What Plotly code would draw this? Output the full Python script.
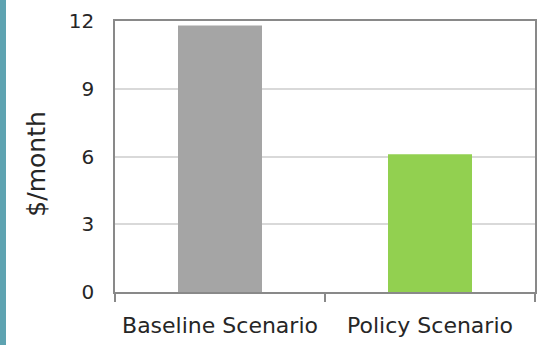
import plotly.graph_objects as go

# Monthly cost by scenario
scenarios = ["Baseline Scenario", "Policy Scenario"]
cost_per_month = [11.8, 6.1]
bar_colors = ["#A5A5A5", "#92D050"]
y_ticks = [0, 3, 6, 9, 12]
y_title = "$/month"

FONT = "DejaVu Sans"
AXIS_GRAY = "#898989"
TEXT = "#262626"

fig = go.Figure(
    go.Bar(
        x=scenarios,
        y=cost_per_month,
        marker=dict(color=bar_colors, line=dict(width=0)),
        width=0.4,
        hoverinfo="x+y",
    )
)

fig.update_layout(
    width=545,
    height=346,
    margin=dict(l=115, r=8, t=21, b=53),
    paper_bgcolor="white",
    plot_bgcolor="white",
    showlegend=False,
    font=dict(family=FONT, size=20, color=TEXT),
    xaxis=dict(
        type="category",
        showline=True,
        linecolor=AXIS_GRAY,
        linewidth=1.5,
        mirror=True,
        ticks="outside",
        tickson="boundaries",
        ticklen=8,
        tickcolor=AXIS_GRAY,
        tickwidth=1.5,
        showgrid=False,
        ticklabelstandoff=13,
        tickfont=dict(size=22, color=TEXT),
    ),
    yaxis=dict(
        range=[0, 12],
        tickvals=y_ticks,
        showline=True,
        linecolor=AXIS_GRAY,
        linewidth=1.5,
        mirror=True,
        showgrid=True,
        gridcolor="#D9D9D9",
        gridwidth=2,
        zeroline=False,
        ticks="",
        ticklabelstandoff=15,
        tickfont=dict(size=20, color=TEXT),
    ),
    annotations=[
        # vertical axis title, sitting slightly below the plot's mid-height
        dict(
            text=y_title,
            textangle=-90,
            xref="paper", yref="paper",
            x=0, y=0.47,
            xanchor="center", yanchor="middle",
            xshift=-78,
            showarrow=False,
            font=dict(size=25, color=TEXT),
        )
    ],
    shapes=[
        # teal accent strip down the left edge of the slide
        dict(
            type="rect",
            xref="paper", yref="paper",
            xsizemode="pixel", ysizemode="pixel",
            xanchor=0, yanchor=0,
            x0=-115, x1=-109, y0=-53, y1=293,
            fillcolor="#5EA3B1",
            line=dict(width=0),
            layer="above",
        )
    ],
)

fig.write_html("out.html")
